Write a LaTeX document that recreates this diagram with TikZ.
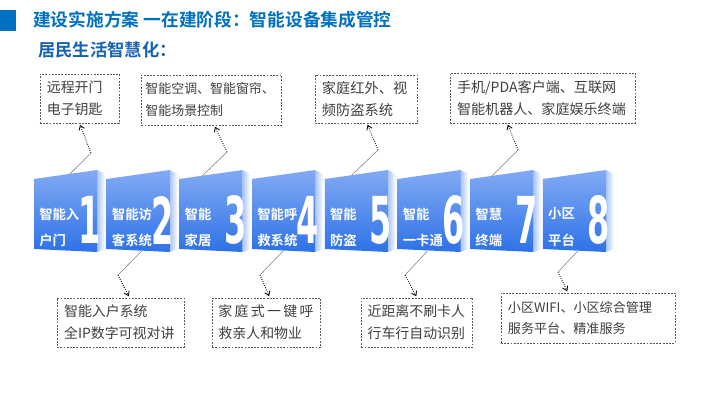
\documentclass[tikz,border=0pt]{standalone}
\usepackage{fontspec}
\usepackage{xcolor}
\usetikzlibrary{calc,arrows.meta}
\setmainfont{Noto Sans CJK SC}[BoldFont={Noto Sans CJK SC Bold}]
\newfontfamily\digitfont{DejaVu Sans Condensed}[BoldFont={DejaVu Sans Condensed Bold}]
\definecolor{titleBlue}{RGB}{0,112,192}
\definecolor{subBlue}{RGB}{24,98,178}
\definecolor{faceTop}{RGB}{130,170,243}
\definecolor{faceBottom}{RGB}{46,114,232}
\definecolor{sideBlue}{RGB}{168,196,246}
\definecolor{boxGray}{RGB}{90,90,90}
\definecolor{noteText}{RGB}{62,62,62}
\tikzset{
  infobox/.style={draw=boxGray,dash pattern=on 1.3pt off 1pt,line width=0.5pt,inner xsep=5pt,inner ysep=2pt,align=left,text=noteText,font=\fontsize{9.9}{15.6}\selectfont},
  lead/.style={draw=gray,line width=0.4pt},
  leadtip/.style={densely dotted,line width=0.6pt,shorten >=1pt,-{Straight Barb[length=3pt,width=4pt]}},
  blocklabel/.style={text=white,font=\bfseries\fontsize{9.5}{9.5}\selectfont,anchor=west,inner sep=0pt},
  bignum/.style={text=white,font=\digitfont\bfseries\fontsize{46}{46}\selectfont,xscale=0.55,inner sep=0pt}
}

\begin{document}
\begin{tikzpicture}[x=0.025cm,y=-0.025cm]
\useasboundingbox (0,0) rectangle (720,405);
\fill[titleBlue] (0,10) rectangle (16,31);
\node[anchor=west,inner sep=0pt,text=titleBlue,font=\bfseries\fontsize{12.6}{12.6}\selectfont] (title) at (33,20) {建设实施方案 一在建阶段：智能设备集成管控};
\node[anchor=west,inner sep=0pt,text=subBlue,font=\bfseries\fontsize{12.3}{12.3}\selectfont] (subtitle) at (38,50) {居民生活智慧化：};

\foreach \n/\la/\lb/\px [count=\i from 0] in {1/智能入/户门/36, 2/智能访/客系统/35, 3/智能/家居/23, 4/智能呼/救系统/31, 5/智能/防盗/27, 6/智能/一卡通/30, 7/智慧/终端/22, 8/小区/平台/35}{
  \pgfmathsetmacro{\bx}{34+72.7*\i}
  \shade[left color=sideBlue,right color=white] (\bx+63,170) -- (\bx+71,174) -- (\bx+71,249) -- (\bx+63,252) -- cycle;
  \shade[top color=faceTop,bottom color=faceBottom] (\bx,179) -- (\bx+63,170) -- (\bx+63,252) -- (\bx,249) -- cycle;
  \node[bignum] (num\n) at (\bx+56,220) {\n};
  \node[blocklabel] (la\n) at (\bx+5,214) {\la};
  \node[blocklabel] (lb\n) at (\bx+5,240) {\lb};
  \ifodd\n\relax
    \coordinate (pin\n) at (\bx+\px,{179-9*\px/63});
  \else
    \coordinate (pin\n) at (\bx+\px,251);
  \fi
}

\node[infobox,text width=1.63cm,minimum height=1.23cm] (boxA) at (79.5,98.5) {远程开门\\电子钥匙};
\node[infobox,text width=3.3cm,inner xsep=3pt,minimum height=1.25cm,font=\fontsize{9.2}{15.6}\selectfont] (boxB) at (211.5,100) {智能空调、智能窗帘、\\智能场景控制};
\node[infobox,text width=2.2cm,minimum height=1.2cm,font=\fontsize{10.1}{15.6}\selectfont] (boxC) at (366,99) {家庭红外、视\\频防盗系统};
\node[infobox,text width=4.27cm,minimum height=1.25cm,font=\fontsize{10}{15.6}\selectfont] (boxD) at (542.5,98) {手机/PDA客户端、互联网\\智能机器人、家庭娱乐终端};
\node[infobox,text width=2.82cm,minimum height=1.23cm] (boxE) at (120.5,322.5) {智能入户系统\\全IP数字可视对讲};
\node[infobox,text width=2.4cm,inner xsep=4.5pt,minimum height=1.23cm] (boxF) at (266.5,322.5) {家\,庭\,式\,一\,键\,呼\\救亲人和物业};
\node[infobox,text width=2.47cm,inner xsep=4.5pt,minimum height=1.23cm] (boxG) at (417,322.5) {近距离不刷卡人\\行车行自动识别};
\node[infobox,text width=4.0cm,minimum height=1.25cm,font=\fontsize{9.3}{15.6}\selectfont] (boxH) at (588,318) {小区WIFI、小区综合管理\\服务平台、精准服务};

\foreach \p/\kx/\ky/\b/\f in {1/91/153/boxA/0.5, 3/227/152/boxB/0.52, 5/378/150/boxC/0.51, 7/518/150/boxD/0.31}{
  \coordinate (bend\p) at (\kx,\ky);
  \draw[lead] (pin\p) -- (bend\p);
  \draw[leadtip] (bend\p) -- ($(\b.south west)!\f!(\b.south east)$);
}
\foreach \p/\kx/\ky/\b/\f in {2/118/275/boxE/0.57, 4/260/275/boxF/0.53, 6/405/275/boxG/0.5, 8/558/272/boxH/0.385}{
  \coordinate (bend\p) at (\kx,\ky);
  \draw[lead] (pin\p) -- (bend\p);
  \draw[leadtip] (bend\p) -- ($(\b.north west)!\f!(\b.north east)$);
}
\end{tikzpicture}
\end{document}
